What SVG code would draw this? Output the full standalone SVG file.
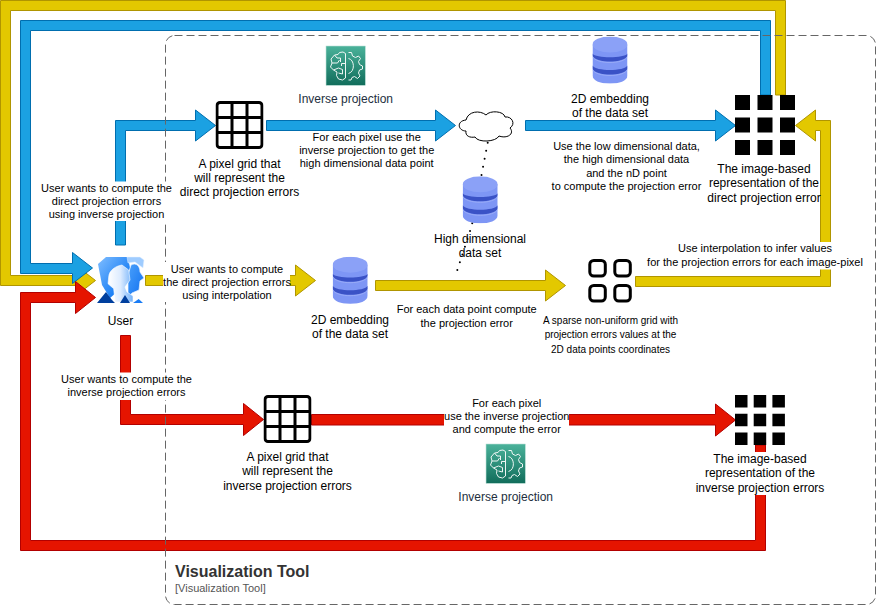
<svg xmlns="http://www.w3.org/2000/svg" width="876" height="606" viewBox="0 0 876 606">
<style>
text{font-family:"Liberation Sans",Arial,sans-serif;text-anchor:middle;fill:#000}
.n{font-size:12px}.e{font-size:11px}.s{font-size:10px}
.i{font-size:12px;fill:#232F3E}
.bg{fill:#fff}
.blue{fill:#1ba1e2;stroke:#006eaf}.yel{fill:#e3c800;stroke:#b09500}.red{fill:#e51400;stroke:#b20000}
.gr{fill:none;stroke:#000;stroke-width:3}
.c{fill:#000}
.sp{fill:none;stroke:#000;stroke-width:3}
</style>
<defs>
<linearGradient id="aws" x1="0" y1="1" x2="0" y2="0"><stop offset="0" stop-color="#116d5b"/><stop offset="1" stop-color="#4ab29a"/></linearGradient>
<linearGradient id="ub" x1="0" y1="0" x2="1" y2="1"><stop offset="0" stop-color="#7fbdff"/><stop offset=".7" stop-color="#1a7ff5"/><stop offset="1" stop-color="#0f6ff0"/></linearGradient>
<linearGradient id="uh" x1="0" y1="0" x2="1" y2="1"><stop offset="0" stop-color="#4aa0fb"/><stop offset="1" stop-color="#0f6ff0"/></linearGradient>
<linearGradient id="uf" x1="0" y1="0" x2="1" y2="0"><stop offset="0" stop-color="#ffffff"/><stop offset=".5" stop-color="#dcebff"/><stop offset="1" stop-color="#6fb0fa"/></linearGradient>
<symbol id="db" viewBox="0 0 35 47" width="35" height="47">
<path d="M0 8V39C0 50 35 50 35 39V8Z" fill="#7e96f5"/>
<path d="M0 16V18C3 26 32 26 35 18V16C32 21 3 21 0 16Z" fill="#3a52c6" transform="translate(0 1)"/>
<path d="M0 28V31C3 39 32 39 35 31V28C32 34 3 34 0 28Z" fill="#3a52c6" transform="translate(0 1)"/>
<path d="M0 20C3 28 32 28 35 20" fill="none" stroke="#a3b3f8" stroke-width=".7"/>
<path d="M0 33C3 41 32 41 35 33" fill="none" stroke="#a3b3f8" stroke-width=".7"/>
<ellipse cx="17.500" cy="8" rx="17.500" ry="8" fill="#8ba1f7"/>
</symbol>
<symbol id="brain" viewBox="0 0 40 40" width="40" height="40">
<rect x=".5" y=".5" width="39.500" height="39.500" fill="url(#aws)" stroke="#9fd3c5" stroke-width=".8"/>
<g fill="none" stroke="#fff" stroke-width="1" stroke-linejoin="round" opacity=".92">
<path d="M20 8V32.500L17 34.500 13 33.500 11 30 11.500 26.500 8 24.500 5 21.500 6.500 17.500 5.500 13.500 9 9.500 12.500 9 14 7 17.500 6.500Z"/>
<path d="M6.500 17.500H12M12 17.500L14 14.500M9 9.500L11.500 12.500H15V16.500M8 24.500L13 22.500 17 24M17 24V28.500L13 27.500M20 18H16V20.500"/>
<path d="M23 7L26 7 27 10.500 30 12 33 10.500 35 13 33 16 34 19 37 20.500V23.500L34 24.500 33 27.500 34.500 30.500 32 33 29 31 26.500 32 25.500 34.500H23"/>
<path d="M23 13C29 14 30 26 23 28"/>
</g>
</symbol>
<symbol id="grid" viewBox="0 0 48 48" width="48" height="48">
<rect class="gr" x="1.500" y="1.500" width="45" height="45" rx="3" fill="#fff"/>
<path class="gr" d="M16.500 1.500V46.500M31.500 1.500V46.500M1.500 16.500H46.500M1.500 31.500H46.500"/>
</symbol>
</defs>
<g id="connectors">
<path class="yel" d="M775.500 95V10.500H10.500V275.500H75.500V265L95.500 280.500 75.500 296V285.500H.5V.5H785.500V95Z"/>
<path class="blue" d="M760.500 95V30.500H30.500V263.500H72.500V252.500L92.500 268 72.500 283.500V273.500H20.500V20.500H770.500V95Z"/>
<path class="red" d="M755.500 445V540.500H30.500V302.500H75.500V313.500L95.500 297.500 75.500 281.500V292.500H20.500V550.500H765.500V445Z"/>
<path class="blue" d="M115.500 245V120.500H195.500V110L215.500 125.500 195.500 141V130.500H125.500V245Z"/>
<path class="blue" d="M266.500 120.500H435.500V110L455.500 125.500 435.500 141V130.500H266.500Z"/>
<path class="blue" d="M525.500 120.500H715.500V110L735.500 125.500 715.500 141V130.500H525.500Z"/>
<path class="yel" d="M145.500 275.500H295.500V265L315.500 280.500 295.500 296V285.500H145.500Z"/>
<path class="yel" d="M375.500 280.500H545.500V270L565.500 285.500 545.500 301V290.500H375.500Z"/>
<path class="yel" d="M635.500 276.500H820.500V130.500H815.500V141L795.500 125.500 815.500 110V120.500H830.500V286.500H635.500Z"/>
<path class="red" d="M120.500 335.500H130.500V414.500H243.500V403.500L263.500 419.500 243.500 435.500V424.500H120.500Z"/>
<path class="red" d="M311.500 414.500H715.500V404L735.500 420 715.500 436V425H311.500Z"/>
<path d="M487.700 142.700L471.700 226 456.700 272" fill="none" stroke="#000" stroke-width="2" stroke-linecap="round" stroke-dasharray="0 8.200"/>
</g>
<g id="boundary">
<rect x="165.500" y="35.500" width="710" height="569" rx="9" fill="none" stroke="#666" stroke-dasharray="8 4"/>
<text x="175" y="577" style="text-anchor:start;font-size:16px;font-weight:bold;fill:#333">Visualization Tool</text>
<text x="175" y="592" style="text-anchor:start;font-size:11px;fill:#555">[Visualization Tool]</text>
</g>
<g id="connector-labels">
<rect class="bg" x="41" y="181.500" width="131" height="39.500"/>
<text class="e"><tspan x="106.500" y="192">User wants to compute the</tspan><tspan x="106.500" y="205">direct projection errors</tspan><tspan x="106.500" y="218">using inverse projection</tspan></text>
<rect class="bg" x="163" y="262" width="127" height="40"/>
<text class="e"><tspan x="227" y="273">User wants to compute</tspan><tspan x="227" y="286">the direct projection errors</tspan><tspan x="227" y="299">using interpolation</tspan></text>
<rect class="bg" x="61" y="372.500" width="131" height="27.500"/>
<text class="e"><tspan x="126.500" y="383">User wants to compute the</tspan><tspan x="126.500" y="396">inverse projection errors</tspan></text>
<rect class="bg" x="299" y="131" width="135.500" height="38"/>
<text class="e"><tspan x="366.700" y="141">For each pixel use the</tspan><tspan x="366.700" y="154">inverse projection to get the</tspan><tspan x="366.700" y="167">high dimensional data point</tspan></text>
<text class="e"><tspan x="466.700" y="313">For each data point compute</tspan><tspan x="466.700" y="327">the projection error</tspan></text>
<text class="e"><tspan x="626.500" y="150">Use the low dimensional data,</tspan><tspan x="626.500" y="163">the high dimensional data</tspan><tspan x="626.500" y="176.500">and the nD point</tspan><tspan x="626.500" y="190">to compute the projection error</tspan></text>
<rect class="bg" x="647.500" y="242" width="216" height="27.500"/>
<text class="e"><tspan x="755" y="252">Use interpolation to infer values</tspan><tspan x="755" y="266">for the projection errors for each image-pixel</tspan></text>
<rect class="bg" x="444" y="396" width="125" height="40"/>
<text class="e"><tspan x="506.700" y="407">For each pixel</tspan><tspan x="506.700" y="420">use the inverse projection</tspan><tspan x="506.700" y="433">and compute the error</tspan></text>
</g>
<g id="user">
<path d="M98 264L106 257H128L130 268 124 286 110 298 102 285Z" fill="url(#ub)"/>
<path d="M127 257H140L144 260 143 268 135 262 128 263Z" fill="#9fccff" stroke="#e6f1ff" stroke-width=".5"/>
<path d="M131 265C136 262 140 266 140 272L144 278 140 281 139 290 132 293 128 298V275Z" fill="url(#uh)" stroke="#eef5ff" stroke-width=".7"/>
<path d="M122 265C116 266 109 270 108.700 277L108 283.700 113.700 288.700 115 302H133V296L127 292 125 287 130 280 128.700 270Z" fill="url(#uf)" stroke="#fff" stroke-width=".6"/>
<path d="M97 303L106 292 112 300 115 303ZM120 303L125 295 130 303Z" fill="#003f9e"/>
<path d="M133 303L138.700 299 143 303Z" fill="#1a7cf4"/>
<text class="n" x="120.500" y="324.500">User</text>
</g>
<g id="grid-direct"><use href="#grid" x="215.500" y="101"/>
<text class="n"><tspan x="239.500" y="167.500">A pixel grid that</tspan><tspan x="239.500" y="181.500">will represent the</tspan><tspan x="239.500" y="196">direct projection errors</tspan></text></g>
<g id="inverse-projection-top"><use href="#brain" x="325.500" y="45.500"/><text class="i" x="345.700" y="103">Inverse projection</text></g>
<g id="cloud"><path d="M466 131C458 131 456 121 466 120 468 111 480 110 486 115 490 110 504 111 505 117 512 116 516 124 510 128 515 134 507 139 499 136 496 142 478 143 475 137 470 138 465 136 466 131Z" fill="#fff" stroke="#000"/></g>
<g id="db-top"><use href="#db" x="592.500" y="36.500"/><text class="n"><tspan x="610" y="103">2D embedding</tspan><tspan x="610" y="117">of the data set</tspan></text></g>
<g id="db-high"><use href="#db" x="462.700" y="176.300"/><text class="n"><tspan x="480" y="243">High dimensional</tspan><tspan x="480" y="257">data set</tspan></text></g>
<g id="db-2d"><use href="#db" x="332.700" y="256.700"/><text class="n"><tspan x="350" y="324">2D embedding</tspan><tspan x="350" y="338">of the data set</tspan></text></g>
<g id="image-direct">
<path class="c" d="M735 95h15v15h-15zM757.500 95h15v15h-15zM780 95h15v15h-15zM735 117.500h15v15h-15zM757.500 117.500h15v15h-15zM780 117.500h15v15h-15zM735 140h15v15h-15zM757.500 140h15v15h-15zM780 140h15v15h-15z"/>
<text class="n"><tspan x="764" y="172.500">The image-based</tspan><tspan x="764" y="187">representation of the</tspan><tspan x="764" y="201.500">direct projection error</tspan></text></g>
<g id="sparse-grid">
<rect class="sp" x="589.800" y="260.500" width="15.500" height="15.500" rx="4"/><rect class="sp" x="614.800" y="260.500" width="15.500" height="15.500" rx="4"/>
<rect class="sp" x="589.800" y="285.500" width="15.500" height="15.500" rx="4"/><rect class="sp" x="614.800" y="285.500" width="15.500" height="15.500" rx="4"/>
<text class="s"><tspan x="610.500" y="323.500">A sparse non-uniform grid with</tspan><tspan x="610.500" y="337.500">projection errors values at the</tspan><tspan x="610.500" y="352.500">2D data points coordinates</tspan></text></g>
<g id="grid-inverse"><use href="#grid" x="263.500" y="395"/>
<text class="n"><tspan x="287.500" y="461">A pixel grid that</tspan><tspan x="287.500" y="475">will represent the</tspan><tspan x="287.500" y="490">inverse projection errors</tspan></text></g>
<g id="inverse-projection-bottom"><use href="#brain" x="485.500" y="443.500"/><text class="i" x="505.700" y="501">Inverse projection</text></g>
<g id="image-inverse">
<path class="c" d="M735 395h12.500v12.500h-12.500zM753.700 395h12.500v12.500h-12.500zM772.400 395h12.500v12.500h-12.500zM735 413.700h12.500v12.500h-12.500zM753.700 413.700h12.500v12.500h-12.500zM772.400 413.700h12.500v12.500h-12.500zM735 432.400h12.500v12.500h-12.500zM753.700 432.400h12.500v12.500h-12.500zM772.400 432.400h12.500v12.500h-12.500z"/>
<rect class="bg" x="700" y="452" width="120" height="43"/>
<text class="n"><tspan x="760" y="462.500">The image-based</tspan><tspan x="760" y="477">representation of the</tspan><tspan x="760" y="491.500">inverse projection errors</tspan></text></g>
</svg>
